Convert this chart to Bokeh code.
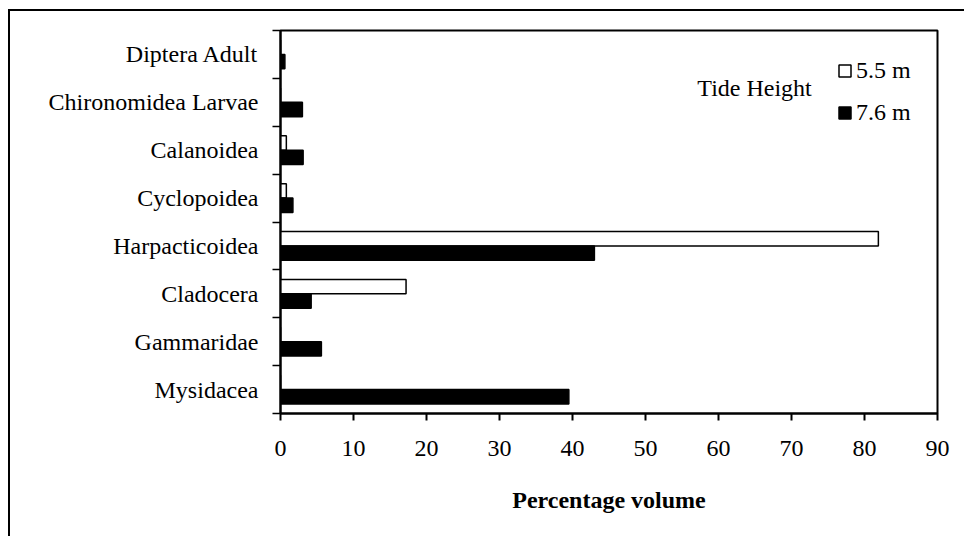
from bokeh.plotting import figure
from bokeh.models import FixedTicker, Legend, LegendItem, Label, ColumnDataSource, Range1d
from bokeh.embed import file_html
from bokeh.resources import INLINE

categories = ["Mysidacea", "Gammaridae", "Cladocera", "Harpacticoidea",
              "Cyclopoidea", "Calanoidea", "Chironomidea Larvae", "Diptera Adult"]
tide_5_5 = [0, 0, 17.2, 81.9, 0.8, 0.8, 0, 0]
tide_7_6 = [39.5, 5.6, 4.2, 43.0, 1.7, 3.1, 3.0, 0.6]
x_ticks = [0, 10, 20, 30, 40, 50, 60, 70, 80, 90]
series_labels = ["5.5 m", "7.6 m"]

FONT = "Liberation Serif"
FS = "24px"
centers = [i + 0.5 for i in range(len(categories))]
bar_h = 0.3

src_a = ColumnDataSource(dict(y=[c + bar_h / 2 for c in centers], v=tide_5_5))
src_b = ColumnDataSource(dict(y=[c - bar_h / 2 for c in centers], v=tide_7_6))

p = figure(width=956, height=527, output_backend="svg", toolbar_location=None,
           x_range=Range1d(0, 90), y_range=Range1d(0, len(categories)),
           min_border_left=270, min_border_right=29, min_border_top=19,
           min_border_bottom=125)
p.margin = (9, 0, 0, 8)
p.styles = {"border-top": "2px solid black", "border-left": "2px solid black"}

ra = p.hbar(y="y", left=0, right="v", height=bar_h, source=src_a,
            fill_color="white", line_color="black", line_width=1.5)
rb = p.hbar(y="y", left=0, right="v", height=bar_h, source=src_b,
            fill_color="black", line_color="black", line_width=1.5)

p.xgrid.visible = False
p.ygrid.visible = False
p.outline_line_color = "black"
p.outline_line_width = 2

xa = p.xaxis[0]
xa.ticker = FixedTicker(ticks=x_ticks)
xa.major_tick_in = 0
xa.major_tick_out = 7
xa.minor_tick_out = 0
xa.axis_line_width = 2
xa.major_tick_line_width = 2
xa.major_label_standoff = 20
xa.major_label_text_font = FONT
xa.major_label_text_font_size = FS
xa.major_label_text_color = "black"
xa.axis_label = "Percentage volume"
xa.axis_label_text_font = FONT
xa.axis_label_text_font_style = "bold"
xa.axis_label_text_font_size = FS
xa.axis_label_text_color = "black"
xa.axis_label_standoff = 28

ya = p.yaxis[0]
ya.ticker = FixedTicker(ticks=centers, minor_ticks=list(range(len(categories) + 1)))
ya.major_label_overrides = {c: name for c, name in zip(centers, categories)}
ya.major_tick_in = 0
ya.major_tick_out = 0
ya.minor_tick_in = 0
ya.minor_tick_out = 8
ya.minor_tick_line_width = 1.5
ya.axis_line_width = 2
ya.major_label_standoff = 14
ya.major_label_text_font = FONT
ya.major_label_text_font_size = FS
ya.major_label_text_color = "black"

legend = Legend(items=[LegendItem(label=series_labels[0], renderers=[ra]),
                       LegendItem(label=series_labels[1], renderers=[rb])],
                location=(557, 287), border_line_alpha=0, background_fill_alpha=0,
                padding=0, margin=0, glyph_width=15, glyph_height=15,
                label_standoff=4, label_height=28, spacing=14,
                label_text_font=FONT, label_text_font_size=FS,
                label_text_color="black")
p.add_layout(legend)

p.add_layout(Label(x=57.1, y=6.79, text="Tide Height", text_font=FONT,
                   text_font_size=FS, text_baseline="middle", text_color="black"))

open("out.html", "w").write(file_html(p, INLINE))
